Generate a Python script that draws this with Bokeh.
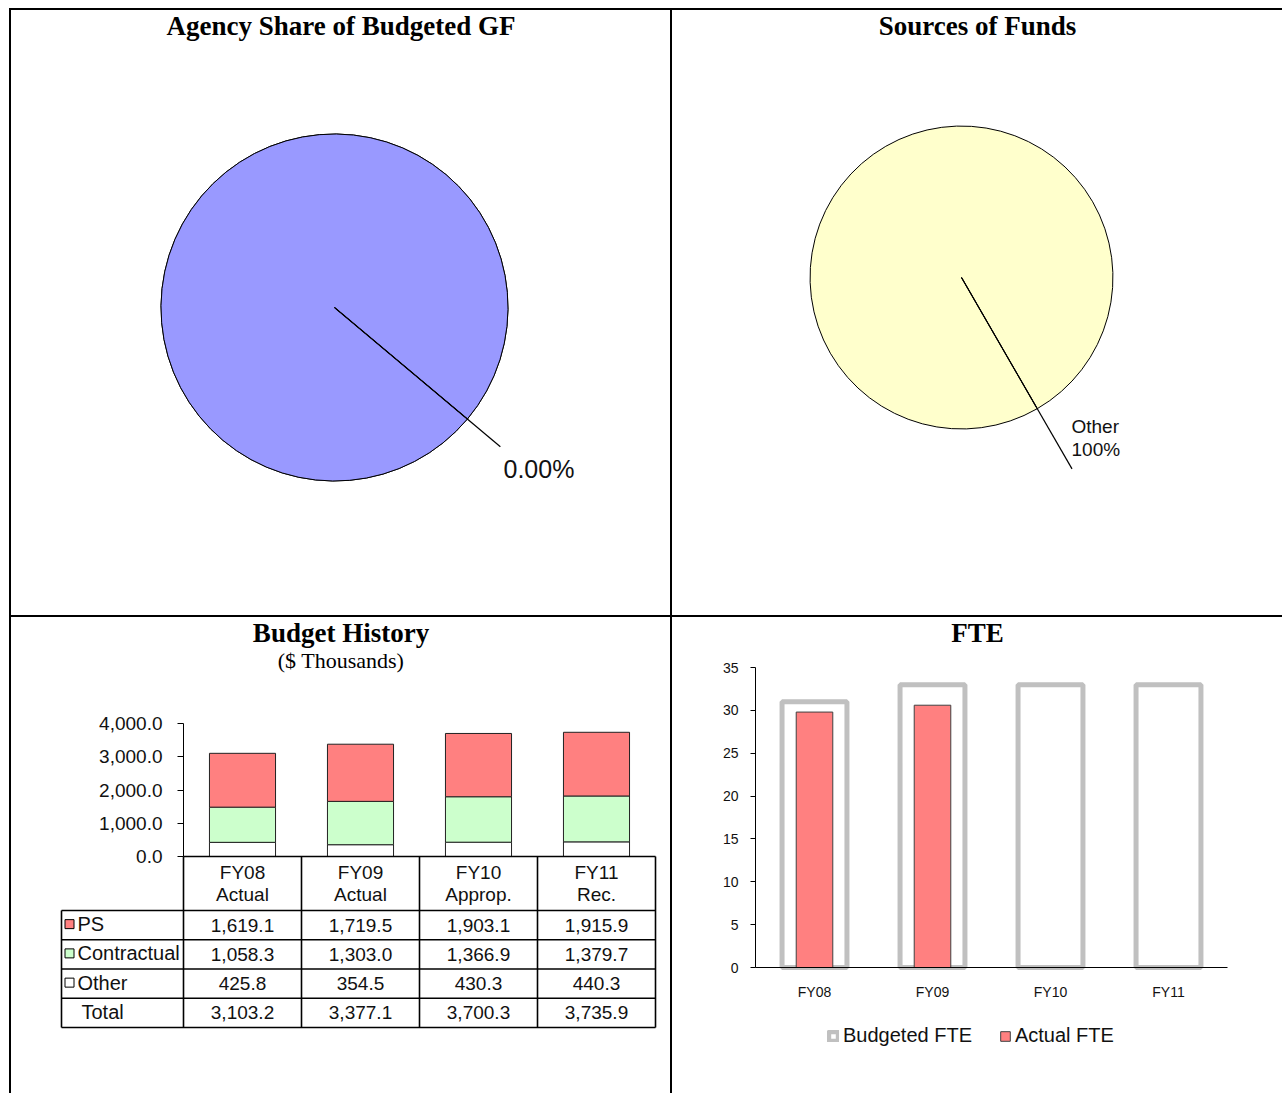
import numpy as np
from bokeh.plotting import figure
from bokeh.models import (Range1d, LinearAxis, FixedTicker, NumeralTickFormatter,
                          ColumnDataSource, Legend, LegendItem, Spacer)
from bokeh.layouts import row, column
from bokeh.core.properties import value
from bokeh.embed import file_html
from bokeh.resources import INLINE

# ---------------- data ----------------
gf_slices = ["Agency", "Rest of General Fund"]
gf_shares = [0.0, 100.0]
gf_colors = ["#9999FF", "#9999FF"]

fund_sources = ["Other"]
fund_shares = [100.0]
fund_colors = ["#FFFFCC"]

bh_years = ["FY08", "FY09", "FY10", "FY11"]
bh_status = ["Actual", "Actual", "Approp.", "Rec."]
bh_series = ["PS", "Contractual", "Other"]
bh_ps = [1619.1, 1719.5, 1903.1, 1915.9]
bh_contractual = [1058.3, 1303.0, 1366.9, 1379.7]
bh_other = [425.8, 354.5, 430.3, 440.3]
bh_total = [3103.2, 3377.1, 3700.3, 3735.9]
bh_colors = ["#FF8080", "#CCFFCC", "#FFFFFF"]
bh_ticks = [0, 1000, 2000, 3000, 4000]

fte_years = ["FY08", "FY09", "FY10", "FY11"]
fte_budgeted = [31.0, 33.0, 33.0, 33.0]
fte_actual = [29.8, 30.6, None, None]
fte_ticks = [0, 5, 10, 15, 20, 25, 30, 35]

# ---------------- layout constants ----------------
SANS = "Liberation Sans"
SERIF = "Liberation Serif"
W_L, W_R, H_T, H_B = 659, 610, 605, 476
CAT = 118.0  # px per category
TITLE_Y = 15
TITLE_SIZE = "27px"


def cell(W, H, xr, yr):
    p = figure(width=W, height=H, x_range=xr, y_range=yr, output_backend="svg",
               toolbar_location=None, x_axis_location=None, y_axis_location=None,
               min_border=0, outline_line_color=None,
               background_fill_color="white", border_fill_color="white")
    p.grid.visible = False
    return p


def pie_cell(W, H, cx, cy, R, title, shares, colors, start_deg, leader, labels, label_x, label_ys, label_size):
    p = cell(W, H, Range1d(-cx / R, (W - cx) / R), Range1d(-(H - cy) / R, cy / R))

    def d(lx, ly):
        return (lx - cx) / R, (cy - ly) / R

    fr = np.asarray(shares, float) / np.sum(shares)
    cum = np.concatenate([[0.0], np.cumsum(fr)])
    a0 = np.radians(start_deg)
    src = ColumnDataSource(dict(start=a0 - 2 * np.pi * cum[:-1], end=a0 - 2 * np.pi * cum[1:],
                                color=colors))
    p.wedge(x=0, y=0, radius=1, start_angle="start", end_angle="end", direction="clock",
            fill_color="color", line_color="black", line_width=1, source=src)
    p.segment(x0=[0], y0=[0], x1=[leader * np.cos(a0)], y1=[leader * np.sin(a0)],
              line_color="black", line_width=1.2)
    tx, ty = d(W / 2, TITLE_Y)
    p.text(x=[tx], y=[ty], text=[title], text_font=value(SERIF), text_font_style="bold",
           text_font_size=TITLE_SIZE, text_align="center", text_baseline="middle",
           text_color="black")
    lx = [d(label_x, y)[0] for y in label_ys]
    ly = [d(label_x, y)[1] for y in label_ys]
    p.text(x=lx, y=ly, text=labels, text_font=value(SANS), text_font_size=label_size,
           text_align="left", text_baseline="middle", text_color="#111111")
    return p


# ---- Agency share pie ----
tl = pie_cell(W_L, H_T, 323, 297, 173.5, "Agency Share of Budgeted GF", gf_shares, gf_colors,
              -40, 1.248, [f"{gf_shares[0]:.2f}%"], 492, [458], "25px")

# ---- Sources of funds pie ----
tr = pie_cell(W_R, H_T, 289, 267, 151.5, "Sources of Funds", fund_shares, fund_colors,
              -60, 1.459, [fund_sources[0], f"{fund_shares[0]:.0f}%"], 399, [416, 439], "19px")

# ---- Budget history ----
ax0, y0 = 172.0, 239.0
ky = 133.0 / 4000.0
bl = cell(W_L, H_B, Range1d(-ax0 / CAT, (W_L - ax0) / CAT), Range1d(-(H_B - y0) / ky, y0 / ky))
bl.extra_x_ranges = {"px": Range1d(0, W_L)}
bl.extra_y_ranges = {"px": Range1d(H_B, 0)}
xs = np.arange(len(bh_years)) + 0.5
bsrc = ColumnDataSource(dict(x=xs, Other=bh_other, Contractual=bh_contractual, PS=bh_ps))
bl.vbar_stack(["Other", "Contractual", "PS"], x="x", width=0.56, source=bsrc,
              fill_color=[bh_colors[2], bh_colors[1], bh_colors[0]],
              line_color="#222222", line_width=1)
ya = LinearAxis(fixed_location=0, bounds=(0, 4000), ticker=FixedTicker(ticks=bh_ticks),
                formatter=NumeralTickFormatter(format="0,0.0"),
                major_tick_out=6, major_tick_in=0, minor_tick_out=0, minor_tick_in=0,
                major_label_standoff=15, major_label_text_font=SANS,
                major_label_text_font_size="19px", major_label_text_color="#111111",
                axis_line_color="black", major_tick_line_color="black")
bl.add_layout(ya, "left")

PX = dict(x_range_name="px", y_range_name="px")
col_x = ax0 + CAT * np.arange(len(bh_years) + 1)
lab_left = 50.0
head_bot = 293.0
row_h = 29.25
row_y = head_bot + row_h * np.arange(5)
# table borders
hx0 = [col_x[0]] + [lab_left] * len(row_y)
hx1 = [col_x[-1]] * (len(row_y) + 1)
hy = [y0] + list(row_y)
bl.segment(x0=hx0, y0=hy, x1=hx1, y1=hy, line_color="black", line_width=1.6, **PX)
vx = [lab_left] + list(col_x)
vy0 = [head_bot] + [y0] * len(col_x)
vy1 = [row_y[-1]] * len(vx)
bl.segment(x0=vx, y0=vy0, x1=vx, y1=vy1, line_color="black", line_width=1.6, **PX)
centers = ax0 + CAT * (np.arange(len(bh_years)) + 0.5)
tstyle = dict(text_font=value(SANS), text_color="#111111", text_baseline="middle")
bl.text(x=centers, y=[255] * 4, text=bh_years, text_align="center", text_font_size="19px",
        **tstyle, **PX)
bl.text(x=centers, y=[277] * 4, text=bh_status, text_align="center", text_font_size="19px",
        **tstyle, **PX)
rows = [bh_ps, bh_contractual, bh_other, bh_total]
row_names = bh_series + ["Total"]
vals_x, vals_y, vals_t = [], [], []
for r, vals in enumerate(rows):
    for c, v in enumerate(vals):
        vals_x.append(centers[c])
        vals_y.append(head_bot + row_h * (r + 0.5))
        vals_t.append(f"{v:,.1f}")
bl.text(x=vals_x, y=vals_y, text=vals_t, text_align="center", text_font_size="19px",
        **tstyle, **PX)
rc = head_bot + row_h * (np.arange(4) + 0.5)
bl.rect(x=[58] * 3, y=rc[:3] - 1, width=9, height=9, fill_color=bh_colors, line_color="black",
        line_width=1, **PX)
bl.text(x=[66, 66, 66, 70], y=rc - 1, text=row_names, text_align="left", text_font_size="20px",
        **tstyle, **PX)
bl.text(x=[W_L / 2], y=[TITLE_Y], text=["Budget History"], text_font=value(SERIF),
        text_font_style="bold", text_font_size=TITLE_SIZE, text_align="center",
        text_baseline="middle", **PX)
bl.text(x=[W_L / 2], y=[43], text=["($ Thousands)"], text_font=value(SERIF),
        text_font_size="22px", text_align="center", text_baseline="middle", **PX)

# ---- FTE ----
fx0, fy0 = 83.0, 350.0
fky = 300.0 / 35.0
br = cell(W_R, H_B, Range1d(-fx0 / CAT, (W_R - fx0) / CAT), Range1d(-(H_B - fy0) / fky, fy0 / fky))
br.extra_x_ranges = {"px": Range1d(0, W_R)}
br.extra_y_ranges = {"px": Range1d(H_B, 0)}
fxs = np.arange(len(fte_years)) + 0.5
rb = br.vbar(x=fxs, top=fte_budgeted, width=0.55, fill_color="white", line_color="#C0C0C0",
             line_width=5)
ra = br.vbar(x=fxs, top=np.array(fte_actual, dtype=float), width=0.31, fill_color="#FF8080",
             line_color="#404040", line_width=1)
fya = LinearAxis(fixed_location=0, bounds=(0, 35), ticker=FixedTicker(ticks=fte_ticks),
                 major_tick_out=5, major_tick_in=0, minor_tick_out=0, minor_tick_in=0,
                 major_label_standoff=12, major_label_text_font=SANS,
                 major_label_text_font_size="14px", major_label_text_color="#111111",
                 axis_line_color="black", major_tick_line_color="black")
fxa = LinearAxis(fixed_location=0, bounds=(0, len(fte_years)), ticker=FixedTicker(ticks=list(fxs)),
                 major_label_overrides={float(x): t for x, t in zip(fxs, fte_years)},
                 major_tick_out=0, major_tick_in=0, minor_tick_out=0, minor_tick_in=0,
                 major_label_standoff=16, major_label_text_font=SANS,
                 major_label_text_font_size="14px", major_label_text_color="#111111",
                 axis_line_color="black")
br.add_layout(fya, "left")
br.add_layout(fxa, "below")
leg = Legend(items=[LegendItem(label="Budgeted FTE", renderers=[rb]),
                    LegendItem(label="Actual FTE", renderers=[ra])],
             orientation="horizontal", location=(155, 46), padding=0, margin=0, spacing=27,
             glyph_width=12, glyph_height=12, label_standoff=4, label_height=20,
             label_text_font=SANS, label_text_font_size="20px", label_text_color="#111111",
             border_line_color=None, background_fill_alpha=0)
br.add_layout(leg)
br.text(x=[W_R / 2], y=[TITLE_Y], text=["FTE"], text_font=value(SERIF), text_font_style="bold",
        text_font_size=TITLE_SIZE, text_align="center", text_baseline="middle", **PX)

# ---------------- page with cell borders ----------------
BLK = {"background-color": "black"}
inner = column(
    row(tl, Spacer(width=2, height=H_T, styles=BLK), tr),
    Spacer(width=W_L + 2 + W_R, height=2, styles=BLK),
    row(bl, Spacer(width=2, height=H_B, styles=BLK), br),
)
page = column(
    Spacer(width=1282, height=8),
    row(
        Spacer(width=9, height=H_T + H_B + 4),
        column(
            Spacer(width=W_L + W_R + 4, height=2, styles=BLK),
            row(Spacer(width=2, height=H_T + H_B + 2, styles=BLK), inner),
        ),
    ),
)

open("out.html", "w").write(file_html(page, INLINE))
